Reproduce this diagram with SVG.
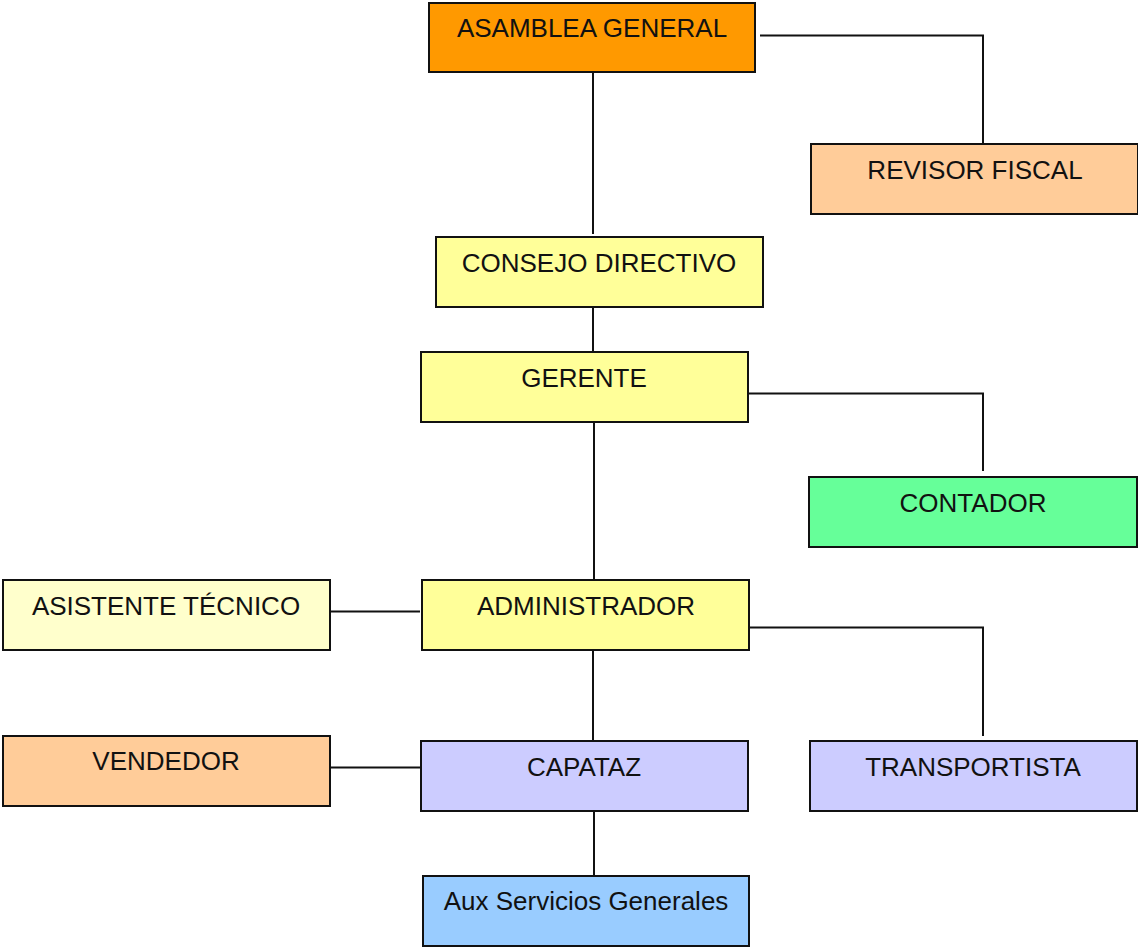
<svg xmlns="http://www.w3.org/2000/svg" width="1138" height="947" viewBox="0 0 1138 947">
<style>
.box{stroke:#111;stroke-width:2}
.lbl{font-family:"Liberation Sans",Arial,sans-serif;font-size:26px;fill:#111;text-anchor:middle}
.conn{fill:none;stroke:#111;stroke-width:2}
</style>
<rect width="1138" height="947" fill="#fff"/>
<g id="connectors">
<path class="conn" d="M760 35.5H983V144"/>
<path class="conn" d="M593 72V234"/>
<path class="conn" d="M593 307V352"/>
<path class="conn" d="M749 393.5H983V471"/>
<path class="conn" d="M594 422V580"/>
<path class="conn" d="M330 611.5H420"/>
<path class="conn" d="M749 627.5H983V736"/>
<path class="conn" d="M593 650V741"/>
<path class="conn" d="M330 767.5H424"/>
<path class="conn" d="M594 811V876"/>
</g>
<g id="asamblea"><rect class="box" x="429" y="3" width="326" height="69" fill="#FF9900"/><text class="lbl" x="592" y="37">ASAMBLEA GENERAL</text></g>
<g id="revisor"><rect class="box" x="811" y="144" width="327" height="70" fill="#FFCC99"/><text class="lbl" x="975" y="179">REVISOR FISCAL</text></g>
<g id="consejo"><rect class="box" x="436" y="237" width="327" height="70" fill="#FFFF99"/><text class="lbl" x="599" y="272">CONSEJO DIRECTIVO</text></g>
<g id="gerente"><rect class="box" x="421" y="352" width="327" height="70" fill="#FFFF99"/><text class="lbl" x="584" y="387">GERENTE</text></g>
<g id="contador"><rect class="box" x="809" y="477" width="328" height="70" fill="#66FF99"/><text class="lbl" x="973" y="512">CONTADOR</text></g>
<g id="asistente"><rect class="box" x="3" y="580" width="327" height="70" fill="#FFFFCC"/><text class="lbl" x="166" y="615">ASISTENTE TÉCNICO</text></g>
<g id="administrador"><rect class="box" x="422" y="580" width="327" height="70" fill="#FFFF99"/><text class="lbl" x="586" y="615">ADMINISTRADOR</text></g>
<g id="vendedor"><rect class="box" x="3" y="736" width="327" height="70" fill="#FFCC99"/><text class="lbl" x="166" y="770">VENDEDOR</text></g>
<g id="capataz"><rect class="box" x="421" y="741" width="327" height="70" fill="#CCCCFF"/><text class="lbl" x="584" y="776">CAPATAZ</text></g>
<g id="transportista"><rect class="box" x="810" y="741" width="327" height="70" fill="#CCCCFF"/><text class="lbl" x="973" y="776">TRANSPORTISTA</text></g>
<g id="aux"><rect class="box" x="423" y="876" width="326" height="70" fill="#99CCFF"/><text class="lbl" x="586" y="910">Aux Servicios Generales</text></g>
</svg>
